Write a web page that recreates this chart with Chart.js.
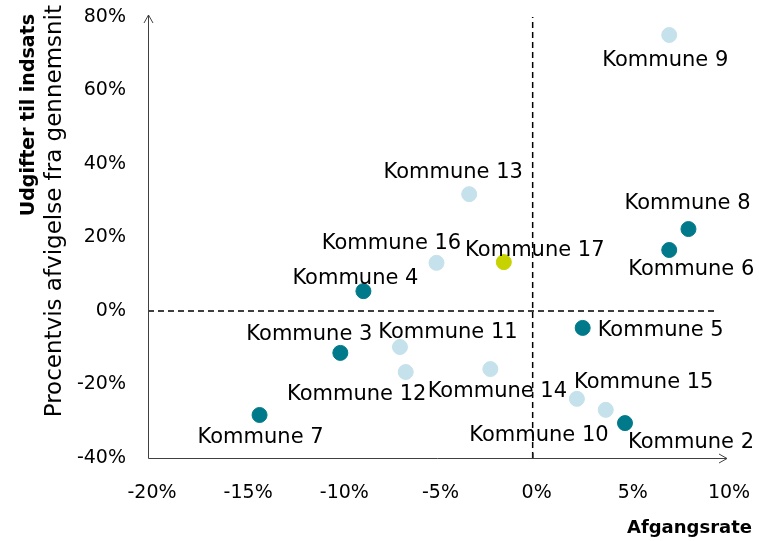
<!DOCTYPE html>
<html>
<head>
<meta charset="utf-8">
<script src="https://cdn.jsdelivr.net/npm/chart.js@4.4.1/dist/chart.umd.min.js"></script>
<style>
  body { margin: 0; background: #fff; }
  #wrap { width: 759px; height: 541px; }
</style>
</head>
<body>
<div id="wrap"><canvas id="chart" width="759" height="541"></canvas></div>
<script>
'use strict';

// kommuner, afgangsrate (x, %) og udgifter afvigelse (y, %)
const names = ['Kommune 2', 'Kommune 3', 'Kommune 4', 'Kommune 5', 'Kommune 6', 'Kommune 7',
  'Kommune 8', 'Kommune 9', 'Kommune 10', 'Kommune 11', 'Kommune 12', 'Kommune 13',
  'Kommune 14', 'Kommune 15', 'Kommune 16', 'Kommune 17'];
const xValues = [4.8, -10.0, -8.8, 2.6, 7.1, -14.2, 8.1, 7.1, 2.3, -6.9, -6.6, -3.3, -2.2, 3.8, -5.0, -1.5];
const yValues = [-30.5, -11.4, 5.4, -4.6, 16.6, -28.3, 22.3, 75.1, -23.9, -9.8, -16.6, 31.8, -15.8, -26.9, 13.1, 13.3];
const groups = ['dark', 'dark', 'dark', 'dark', 'dark', 'dark', 'dark', 'light', 'light', 'light',
  'light', 'light', 'light', 'light', 'light', 'highlight'];

const xTicks = [-20, -15, -10, -5, 0, 5, 10];
const yTicks = [-40, -20, 0, 20, 40, 60, 80];

// label placement relative to the point (px)
const labelOffsets = [[66, 19], [-31, -18], [-8, -13], [78, 3], [22, 20], [1, 23], [-1, -26], [-4, 26],
  [-38, 37], [48, -14], [-49, 23], [-16, -22], [7, 22], [38, -27], [-45, -19], [31, -12]];

const groupColors = { dark: '#007a8a', light: '#c5e1eb', highlight: '#c6d300' };

function buildDatasets() {
  return Object.keys(groupColors).map(function (g) {
    const pts = [];
    names.forEach(function (n, i) {
      if (groups[i] === g) pts.push({ x: xValues[i], y: yValues[i] });
    });
    return {
      label: g,
      data: pts,
      backgroundColor: groupColors[g],
      borderColor: groupColors[g],
      pointRadius: 7.5,
      pointHoverRadius: 7.5
    };
  });
}

const FONT = '"DejaVu Sans", sans-serif';

// no extra padding from the tick labels, layout.padding decides the plot area
function noPadding(s) {
  s.paddingTop = 0; s.paddingBottom = 0; s.paddingLeft = 0; s.paddingRight = 0;
}

const decorPlugin = {
  id: 'decor',
  beforeDatasetsDraw(chart) {
    const ctx = chart.ctx;
    const xs = chart.scales.x, ys = chart.scales.y;
    const x0 = xs.getPixelForValue(0), y0 = ys.getPixelForValue(0);
    const left = xs.getPixelForValue(-20), right = xs.getPixelForValue(10);
    const top = ys.getPixelForValue(80), bottom = ys.getPixelForValue(-40);
    ctx.save();
    ctx.strokeStyle = '#000';
    ctx.lineWidth = 1.5;
    ctx.setLineDash([6, 4]);
    ctx.beginPath();
    ctx.moveTo(x0, bottom); ctx.lineTo(x0, top);
    ctx.moveTo(left, y0); ctx.lineTo(right - 10, y0);
    ctx.stroke();
    ctx.setLineDash([]);

    // axis lines with arrows
    ctx.strokeStyle = '#404040';
    ctx.lineWidth = 1;
    ctx.beginPath();
    ctx.moveTo(left + 0.5, bottom + 0.5); ctx.lineTo(right + 2, bottom + 0.5);
    ctx.moveTo(right - 6, bottom - 4); ctx.lineTo(right + 2, bottom + 0.5); ctx.lineTo(right - 6, bottom + 5);
    ctx.moveTo(left + 0.5, bottom + 0.5); ctx.lineTo(left + 0.5, top - 2);
    ctx.moveTo(left - 4, top + 6); ctx.lineTo(left + 0.5, top - 2); ctx.lineTo(left + 5, top + 6);
    // small crossing marks
    ctx.moveTo(x0 + 0.5, bottom); ctx.lineTo(x0 + 0.5, bottom - 5);
    ctx.moveTo(left, y0 + 0.5); ctx.lineTo(left + 5, y0 + 0.5);
    ctx.stroke();

    // axis titles
    ctx.fillStyle = '#000';
    ctx.textAlign = 'right';
    ctx.textBaseline = 'alphabetic';
    ctx.font = 'bold 18px ' + FONT;
    ctx.fillText('Afgangsrate', 752, 533);
    ctx.save();
    ctx.translate(34, 14);
    ctx.rotate(-Math.PI / 2);
    ctx.font = 'bold 19px ' + FONT;
    ctx.fillText('Udgifter til indsats', 0, 0);
    ctx.restore();
    ctx.save();
    ctx.translate(61, 5);
    ctx.rotate(-Math.PI / 2);
    ctx.font = '23px ' + FONT;
    ctx.fillText('Procentvis afvigelse fra gennemsnit', 0, 0);
    ctx.restore();
    ctx.restore();
  },
  afterDatasetsDraw(chart) {
    const ctx = chart.ctx;
    const xs = chart.scales.x, ys = chart.scales.y;
    ctx.save();
    ctx.fillStyle = '#000';
    ctx.font = '21px ' + FONT;
    ctx.textAlign = 'center';
    ctx.textBaseline = 'middle';
    names.forEach(function (n, i) {
      const px = xs.getPixelForValue(xValues[i]);
      const py = ys.getPixelForValue(yValues[i]);
      ctx.fillText(n, px + labelOffsets[i][0], py + labelOffsets[i][1]);
    });
    ctx.restore();
  }
};

new Chart(document.getElementById('chart'), {
  type: 'scatter',
  data: { datasets: buildDatasets() },
  options: {
    responsive: false,
    animation: false,
    layout: { padding: { left: 0, top: 17, right: 34, bottom: 0 } },
    plugins: { legend: { display: false }, tooltip: { enabled: false } },
    scales: {
      x: {
        min: -20, max: 10,
        afterBuildTicks: function (s) { s.ticks = xTicks.map(function (v) { return { value: v }; }); },
        afterFit: function (s) { s.height = 83; noPadding(s); },
        grid: { display: false, drawTicks: false },
        border: { display: false },
        ticks: {
          padding: 24, labelOffset: 4, color: '#000',
          font: { family: FONT, size: 19 },
          callback: function (v) { return v + '%'; }
        }
      },
      y: {
        min: -40, max: 80,
        afterBuildTicks: function (s) { s.ticks = yTicks.map(function (v) { return { value: v }; }); },
        afterFit: function (s) { s.width = 148; noPadding(s); },
        grid: { display: false, drawTicks: false },
        border: { display: false },
        ticks: {
          padding: 22, color: '#000',
          font: { family: FONT, size: 19 },
          callback: function (v) { return v + '%'; }
        }
      }
    }
  },
  plugins: [decorPlugin]
});
</script>
</body>
</html>
